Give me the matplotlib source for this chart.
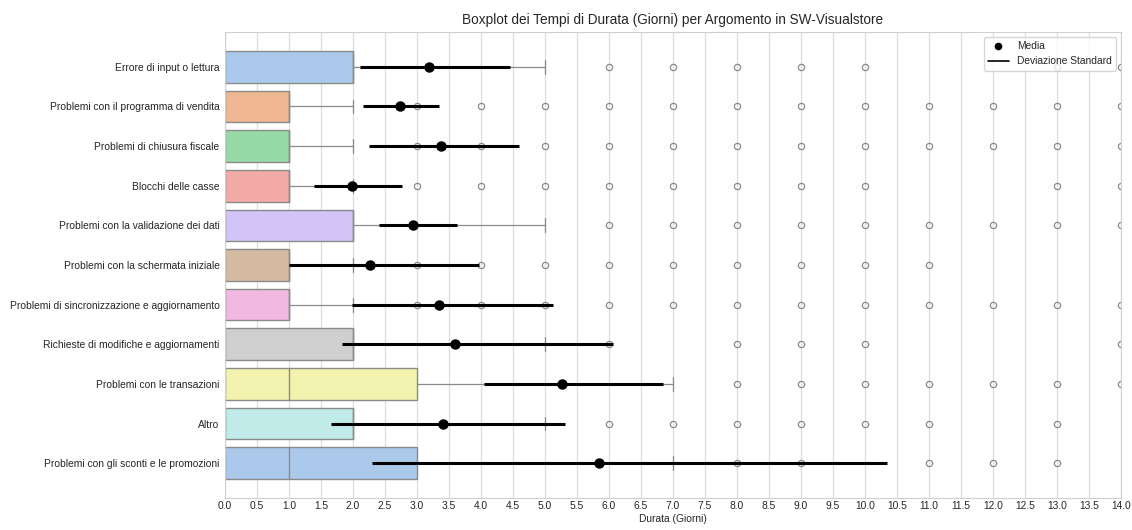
import matplotlib
matplotlib.use("Agg")
import matplotlib.pyplot as plt
import numpy as np
import seaborn as sns
from matplotlib.lines import Line2D

# Topics, top to bottom
categories = [
    "Errore di input o lettura",
    "Problemi con il programma di vendita",
    "Problemi di chiusura fiscale",
    "Blocchi delle casse",
    "Problemi con la validazione dei dati",
    "Problemi con la schermata iniziale",
    "Problemi di sincronizzazione e aggiornamento",
    "Richieste di modifiche e aggiornamenti",
    "Problemi con le transazioni",
    "Altro",
    "Problemi con gli sconti e le promozioni",
]

# Box statistics (days)
q1 = [0, 0, 0, 0, 0, 0, 0, 0, 0, 0, 0]
medians = [2, 1, 1, 1, 2, 1, 1, 2, 1, 2, 1]
q3 = [2, 1, 1, 1, 2, 1, 1, 2, 3, 2, 3]
whisker_lo = [0, 0, 0, 0, 0, 0, 0, 0, 0, 0, 0]
whisker_hi = [5, 2, 2, 2, 5, 2, 2, 5, 7, 5, 7]
fliers = [
    [6, 7, 8, 9, 10, 13, 14],
    [3, 4, 5, 6, 7, 8, 9, 10, 11, 12, 13, 14],
    [3, 4, 5, 6, 7, 8, 9, 10, 11, 12, 13, 14],
    [3, 4, 5, 6, 7, 8, 9, 10, 13, 14],
    [6, 7, 8, 9, 10, 11, 12, 13, 14],
    [3, 4, 5, 6, 7, 8, 9, 10, 11],
    [3, 4, 5, 6, 7, 8, 9, 10, 11, 12, 13, 14],
    [6, 8, 9, 10, 14],
    [8, 9, 10, 11, 12, 13, 14],
    [6, 7, 8, 9, 10, 11, 13],
    [8, 9, 11, 12, 13],
]

# Mean and standard-deviation interval per topic
means = [3.19, 2.74, 3.37, 1.98, 2.94, 2.27, 3.34, 3.59, 5.27, 3.40, 5.84]
sd_low = [2.11, 2.16, 2.25, 1.39, 2.41, 1.00, 1.98, 1.83, 4.04, 1.66, 2.30]
sd_high = [4.46, 3.34, 4.59, 2.76, 3.62, 3.97, 5.12, 6.07, 6.84, 5.31, 10.35]

x_ticks = np.arange(0, 14.01, 0.5)

sns.set_style("whitegrid")
plt.rcParams["font.family"] = ["Liberation Sans", "DejaVu Sans"]

fig = plt.figure(figsize=(11.32, 5.30), dpi=100)
ax = fig.add_axes([225 / 1132, 1 - 498 / 530, 896 / 1132, 466 / 530])

gray = "#8a8a8a"
palette = [sns.desaturate(c, 0.75) for c in sns.color_palette("pastel", len(categories))]

positions = np.arange(len(categories))
stats = [
    dict(label=c, q1=a, med=m, q3=b, whislo=lo, whishi=hi, fliers=f)
    for c, a, m, b, lo, hi, f in zip(categories, q1, medians, q3, whisker_lo, whisker_hi, fliers)
]
bp = ax.bxp(
    stats,
    positions=positions,
    orientation="horizontal",
    widths=0.8,
    patch_artist=True,
    capwidths=0.35,
    boxprops=dict(edgecolor=gray, linewidth=1.0),
    whiskerprops=dict(color=gray, linewidth=0.9),
    capprops=dict(color=gray, linewidth=0.9),
    medianprops=dict(color=gray, linewidth=1.0),
    flierprops=dict(marker="o", markerfacecolor="none", markeredgecolor=gray,
                    markersize=4.5, markeredgewidth=0.9),
)
for patch, col in zip(bp["boxes"], palette):
    patch.set_facecolor(col)

ax.hlines(positions, sd_low, sd_high, color="black", linewidth=2.2, zorder=3)
ax.plot(means, positions, "o", color="black", markersize=6.5, zorder=4)

ax.set_yticks(positions)
ax.set_yticklabels(categories, fontsize=7.4)
ax.set_ylim(10.88, -0.88)
ax.set_xlim(0, 14)
ax.set_xticks(x_ticks)
ax.set_xticklabels([f"{v:.1f}" for v in x_ticks], fontsize=7.4)
ax.tick_params(axis="x", pad=2, length=0)
ax.tick_params(axis="y", pad=4, length=0)
ax.yaxis.grid(False)
ax.xaxis.grid(True, color="#dedede", linewidth=0.9)
for s in ax.spines.values():
    s.set_color("#d0d0d0")
ax.set_ylabel("")
ax.set_xlabel("Durata (Giorni)", fontsize=7.4, labelpad=2)
ax.set_title("Boxplot dei Tempi di Durata (Giorni) per Argomento in SW-Visualstore",
             fontsize=9.8, pad=6)

handles = [
    Line2D([], [], marker="o", color="black", linestyle="none", markersize=4.5, label="Media"),
    Line2D([], [], color="black", linewidth=1.2, label="Deviazione Standard"),
]
ax.legend(handles=handles, loc="upper right", fontsize=7.4, frameon=True)

fig.savefig("out.png", dpi=100)
